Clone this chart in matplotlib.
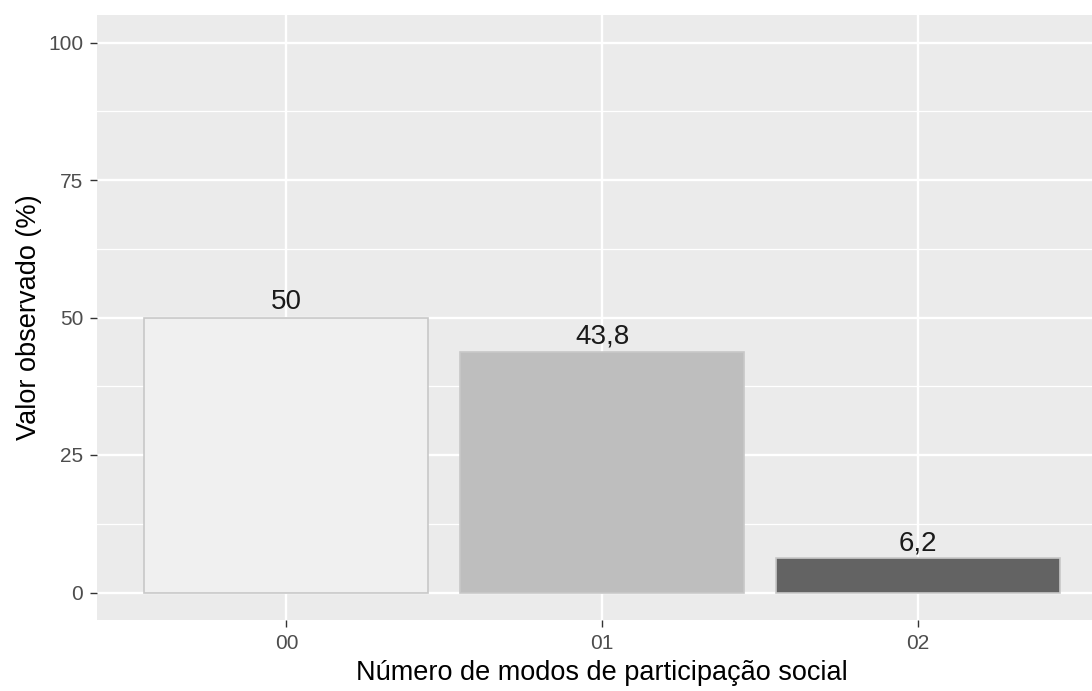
import numpy as np
import matplotlib
matplotlib.use("Agg")
import matplotlib.pyplot as plt

categories = ["00", "01", "02"]
values = [50, 43.8, 6.2]
value_labels = ["50", "43,8", "6,2"]
bar_colors = ["#F0F0F0", "#BEBEBE", "#636363"]

plt.rcParams["font.family"] = ["Liberation Sans", "DejaVu Sans"]

fig = plt.figure(figsize=(10.92, 6.91), dpi=100)
ax = fig.add_axes([97 / 1092, 71 / 691, 1010 / 1092, 605 / 691])
ax.set_facecolor("#EBEBEB")

x = np.arange(1, len(categories) + 1)
ax.set_xlim(0.4, len(categories) + 0.6)
ax.set_ylim(-5, 105)

# grid like ggplot
for yv in [12.5, 37.5, 62.5, 87.5]:
    ax.axhline(yv, color="white", lw=0.9, zorder=0)
for yv in [0, 25, 50, 75, 100]:
    ax.axhline(yv, color="white", lw=1.7, zorder=0)
for xv in x:
    ax.axvline(xv, color="white", lw=1.7, zorder=0)

ax.bar(x, values, width=0.9, color=bar_colors, edgecolor="#C8C8C8", linewidth=1.2, zorder=2)

for xi, v, lab in zip(x, values, value_labels):
    ax.annotate(lab, (xi, v), xytext=(0, 6), textcoords="offset points",
                ha="center", va="baseline", fontsize=20, color="#1A1A1A", zorder=3)

ax.set_xticks(x)
ax.set_xticklabels(categories)
ax.set_yticks([0, 25, 50, 75, 100])
ax.tick_params(axis="both", colors="#333333", length=5, width=1, labelsize=15,
               labelcolor="#4D4D4D", pad=5)
for s in ax.spines.values():
    s.set_visible(False)

ax.set_xlabel("Número de modos de participação social", fontsize=19.5, color="black", labelpad=5)
ax.set_ylabel("Valor observado (%)", fontsize=19.5, color="black", labelpad=4)

fig.savefig("out.png", dpi=100)
